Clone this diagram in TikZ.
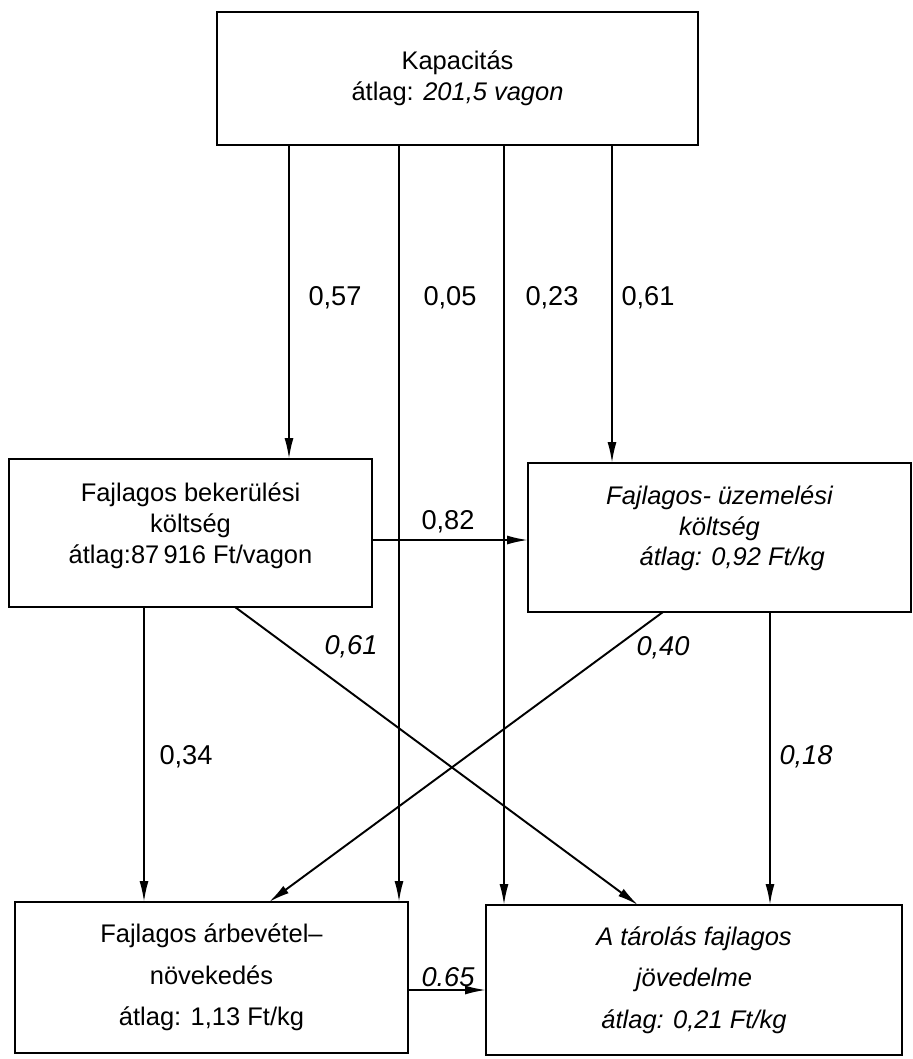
\documentclass[tikz,border=0pt]{standalone}
\usepackage{fontspec}
\setmainfont{Liberation Sans}
\usetikzlibrary{arrows.meta}
\begin{document}
\begin{tikzpicture}[x=0.02cm,y=-0.02cm,
  box/.style={draw, line width=1.6pt, inner sep=0pt, outer sep=0pt, align=center},
  midtext/.style={font=\fontsize{14.5}{17.5}\selectfont},
  bottext/.style={font=\fontsize{14.5}{23.5}\selectfont},
  arr/.style={line width=1.1pt, -{Latex[length=4.2mm,width=1.8mm]}},
  lab/.style={font=\fontsize{15.5}{16}\selectfont, inner sep=0pt}]
\useasboundingbox (0,0) rectangle (913,1059);
% boxes
\node[box, midtext, minimum width=9.62cm, minimum height=2.66cm] (top) at (457.5,78.5)
  {Kapacitás\hspace{1.2em}\\átlag: \textit{201,5 vagon}};
\node[box, midtext, minimum width=7.26cm, minimum height=2.96cm] (lm) at (190.5,533)
  {Fajlagos bekerülési\\költség\\átlag:87\,916 Ft/vagon\\[-6pt]};
\node[box, midtext, minimum width=7.66cm, minimum height=2.98cm] (rm) at (719.5,537.5)
  {\itshape Fajlagos- üzemelési\\\itshape költség\\\itshape\hspace{1em}átlag: 0,92 Ft/kg\\[-4pt]};
\node[box, bottext, minimum width=7.86cm, minimum height=3.02cm] (bl) at (211.5,977.5)
  {Fajlagos árbevétel–\\növekedés\\átlag: 1,13 Ft/kg};
\node[box, bottext, minimum width=8.32cm, minimum height=3.0cm] (br) at (694,980)
  {\itshape A tárolás fajlagos\\\itshape jövedelme\\\itshape átlag: 0,21 Ft/kg};
% column / row helpers
\coordinate (c1) at (289,0);
\coordinate (c2) at (399,0);
\coordinate (c3) at (504,0);
\coordinate (c4) at (612,0);
\coordinate (c5) at (144,0);
\coordinate (c6) at (770,0);
\coordinate (d1) at (235,0);
\coordinate (d2) at (638,0);
\coordinate (d3) at (663,0);
\coordinate (d4) at (269,0);
\coordinate (r1) at (0,540);
\coordinate (r2) at (0,990);
% connectors
\draw[arr] (c1 |- top.south) -- (c1 |- lm.north);
\draw[arr] (c2 |- top.south) -- (c2 |- bl.north);
\draw[arr] (c3 |- top.south) -- (c3 |- br.north);
\draw[arr] (c4 |- top.south) -- (c4 |- rm.north);
\draw[arr] (lm.east |- r1) -- (rm.west |- r1);
\draw[arr] (c5 |- lm.south) -- (c5 |- bl.north);
\draw[arr] (c6 |- rm.south) -- (c6 |- br.north);
\draw[arr] (d1 |- lm.south) -- (d2 |- br.north);
\draw[arr] (d3 |- rm.south) -- (d4 |- bl.north);
\draw[arr] (bl.east |- r2) -- (br.west |- r2);
% labels
\node[lab] (l057) at (335,298) {0,57};
\node[lab] (l005) at (450,298) {0,05};
\node[lab] (l023) at (552,298) {0,23};
\node[lab] (l061a) at (648,298) {0,61};
\node[lab] (l082) at (448,522) {0,82};
\node[lab] (l061b) at (351,647) {\itshape 0,61};
\node[lab] (l040) at (663,648) {\itshape 0,40};
\node[lab] (l034) at (186,757) {0,34};
\node[lab] (l018) at (806,757) {\itshape 0,18};
\node[lab] (l065) at (448,977) {\itshape 0.65};
\end{tikzpicture}
\end{document}
